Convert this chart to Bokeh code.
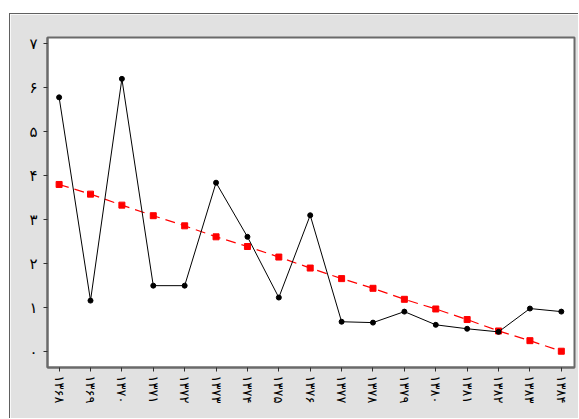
from bokeh.plotting import figure
from bokeh.models import FixedTicker, Range1d, Spacer
from bokeh.layouts import column, row
from bokeh.embed import file_html
from bokeh.resources import INLINE

years = ["۱۳۶۸", "۱۳۶۹", "۱۳۷۰", "۱۳۷۱", "۱۳۷۲", "۱۳۷۳", "۱۳۷۴", "۱۳۷۵", "۱۳۷۶",
         "۱۳۷۷", "۱۳۷۸", "۱۳۷۹", "۱۳۸۰", "۱۳۸۱", "۱۳۸۲", "۱۳۸۳", "۱۳۸۴"]
actual = [5.78, 1.16, 6.2, 1.5, 1.5, 3.84, 2.61, 1.23, 3.1,
          0.68, 0.66, 0.91, 0.61, 0.52, 0.45, 0.98, 0.91]
trend = [3.8, 3.58, 3.33, 3.09, 2.86, 2.61, 2.39, 2.15, 1.90,
         1.66, 1.44, 1.19, 0.97, 0.73, 0.47, 0.25, 0.01]
y_ticks = [0, 1, 2, 3, 4, 5, 6, 7]
y_labels = ["۰", "۱", "۲", "۳", "۴", "۵", "۶", "۷"]

x = list(range(len(years)))

GREY = "#e1e1e1"
p = figure(width=569, height=405, output_backend="svg", toolbar_location=None,
           x_range=Range1d(-0.37, 16.42), y_range=Range1d(-0.36, 7.14),
           background_fill_color="white", border_fill_color=GREY,
           min_border_left=37, min_border_right=5, min_border_top=23, min_border_bottom=52)
p.outline_line_color = "#6a6a6a"
p.outline_line_width = 2
p.grid.visible = False

p.line(x, trend, line_color="#ff0000", line_width=1.2, line_dash="10 6")
p.scatter(x, trend, marker="square", size=6, color="#ff0000")
p.line(x, actual, line_color="black", line_width=1)
p.scatter(x, actual, marker="circle", size=5, color="black")

p.yaxis.ticker = FixedTicker(ticks=y_ticks)
p.yaxis.major_label_overrides = {t: l for t, l in zip(y_ticks, y_labels)}
p.xaxis.ticker = FixedTicker(ticks=x)
p.xaxis.major_label_overrides = {i: l for i, l in enumerate(years)}
p.xaxis.major_label_orientation = "vertical"
for ax in (p.xaxis, p.yaxis):
    ax.minor_tick_line_color = None
    ax.major_tick_in = 0
    ax.major_tick_out = 4
    ax.major_tick_line_color = "#303030"
    ax.axis_line_color = "#6a6a6a"
    ax.axis_line_width = 2
    ax.major_label_text_font = "DejaVu Sans"
    ax.major_label_text_color = "black"
p.yaxis.major_label_text_font_size = "15px"
p.xaxis.major_label_text_font_size = "13px"
p.yaxis.major_label_standoff = 6
p.xaxis.major_label_standoff = 4

p.styles = {"border-left": "1px solid #606060", "border-top": "1px solid #606060"}

layout = column(Spacer(height=13, width=579),
                row(Spacer(width=9, height=406), p))
open("out.html", "w").write(file_html(layout, INLINE))
